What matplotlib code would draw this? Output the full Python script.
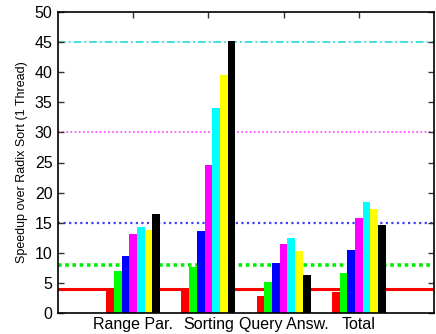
import matplotlib
matplotlib.use("Agg")
import matplotlib.pyplot as plt
import numpy as np

plt.rcParams['font.family'] = ['Liberation Sans', 'DejaVu Sans']

categories = ["Range Par.", "Sorting", "Query Answ.", "Total"]
speedups = {
    "c1": [3.65, 4.1, 2.85, 3.5],
    "c2": [7.0, 7.65, 5.15, 6.65],
    "c3": [9.5, 13.6, 8.3, 10.45],
    "c4": [13.1, 24.6, 11.45, 15.8],
    "c5": [14.3, 34.1, 12.45, 18.4],
    "c6": [13.8, 39.5, 10.3, 17.3],
    "c7": [16.4, 45.1, 6.3, 14.6],
}
bar_colors = ["#ff0000", "#00ff00", "#0000ff", "#ff00ff", "#00ffff", "#ffff00", "#000000"]

# ideal-speedup reference levels
ref_levels = [4, 8, 15, 30, 45]
ref_colors = ["#ff0000", "#00ee00", "#4040ff", "#ff40ff", "#40e0e0"]
ref_styles = ["-", (0, (1, 1)), (0, (1, 1.5)), (0, (1, 1.5)), (0, (4, 1.5, 1, 1.5))]
ref_widths = [2.2, 2.6, 1.6, 1.2, 1.4]

fig = plt.figure(figsize=(4.36, 3.34), dpi=100)
ax = fig.add_axes([58/436, 21/334, 376/436, 301/334])

for lvl, c, ls, lw in zip(ref_levels, ref_colors, ref_styles, ref_widths):
    ax.axhline(lvl, color=c, linestyle=ls, linewidth=lw, zorder=1)

x = np.arange(1, len(categories) + 1)
w = 0.1025
for i, (key, col) in enumerate(zip(speedups, bar_colors)):
    ax.bar(x + (i - 3) * w, speedups[key], width=w, color=col, edgecolor='none', zorder=2)

ax.set_xlim(0, 5)
ax.set_ylim(0, 50)
ax.set_yticks(range(0, 51, 5))
ax.set_xticks(x)
ax.set_xticklabels(categories, fontsize=11.5)
ax.tick_params(axis='y', labelsize=11.5, pad=4)
ax.tick_params(direction='in', length=4, width=1, top=True, right=True, colors='#333333',
               labelcolor='black')
ax.tick_params(axis='x', pad=3)
ax.set_ylabel("Speedup over Radix Sort (1 Thread)", fontsize=9, labelpad=5)
for s in ax.spines.values():
    s.set_linewidth(1.2)
    s.set_color('black')

fig.savefig("out.png", dpi=100)
